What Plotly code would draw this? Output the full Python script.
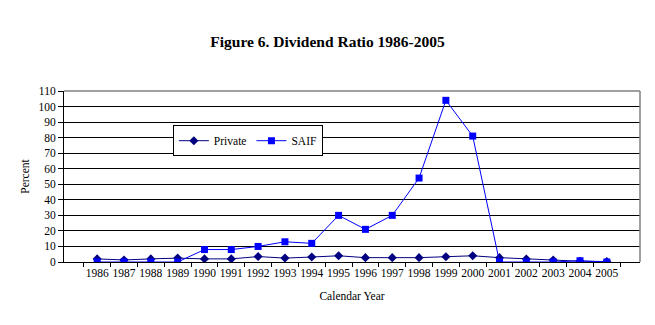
import plotly.graph_objects as go

years = [str(y) for y in range(1986, 2006)]
private = [2.0, 1.3, 2.0, 2.5, 2.0, 2.0, 3.5, 2.5, 3.2, 4.0, 2.8, 2.8, 2.8, 3.4, 4.0, 2.8, 1.9, 1.3, 0.5, 0.3]
saif = [0, 0, 0, 0, 8, 8, 10, 13, 12, 30, 21, 30, 54, 104, 81, 0, 0, 0, 0.8, 0]

font_family = "Liberation Serif, Times New Roman, serif"

fig = go.Figure()
fig.add_trace(go.Scatter(x=years, y=private, name="Private", mode="lines+markers",
                         line=dict(color="#000080", width=1),
                         marker=dict(symbol="diamond", size=7, color="#000080")))
fig.add_trace(go.Scatter(x=years, y=saif, name="SAIF", mode="lines+markers",
                         line=dict(color="#0000FF", width=1),
                         marker=dict(symbol="square", size=7, color="#0000FF")))

fig.update_layout(
    width=655, height=325,
    margin=dict(l=64, r=15, t=91, b=63),
    paper_bgcolor="white", plot_bgcolor="white",
    font=dict(family=font_family, size=11.5, color="black"),
    title=dict(text="<b>Figure 6. Dividend Ratio 1986-2005</b>", x=0.5, xanchor="center",
               y=1 - 42/325, yanchor="middle", font=dict(size=15.5, family=font_family)),
    legend=dict(orientation="h", x=0.189, y=0.80, xanchor="left", yanchor="top",
                bgcolor="white", bordercolor="black", borderwidth=1,
                font=dict(size=11.5, family=font_family), itemwidth=30,
                tracegroupgap=0),
    showlegend=True,
    xaxis=dict(type="category", tickson="boundaries", ticks="outside", ticklen=4,
               tickcolor="black", showline=True, linecolor="black", linewidth=1,
               showgrid=False, tickfont=dict(size=11.5), tickangle=0,
               title=dict(text="Calendar Year", font=dict(size=11.5), standoff=14)),
    yaxis=dict(range=[0, 110], dtick=10, ticks="outside", ticklen=5, tickcolor="black",
               showline=True, linecolor="black", linewidth=1,
               showgrid=True, gridcolor="black", gridwidth=1, zeroline=False,
               tickfont=dict(size=11.5),
               title=dict(text="Percent", font=dict(size=11.5), standoff=6)),
)
fig.add_shape(type="line", xref="paper", yref="paper", x0=0, x1=1, y0=1, y1=1,
              line=dict(color="#808080", width=1.5))
fig.add_shape(type="line", xref="paper", yref="paper", x0=1, x1=1, y0=0, y1=1,
              line=dict(color="#808080", width=1.5))

fig.write_html("out.html")
